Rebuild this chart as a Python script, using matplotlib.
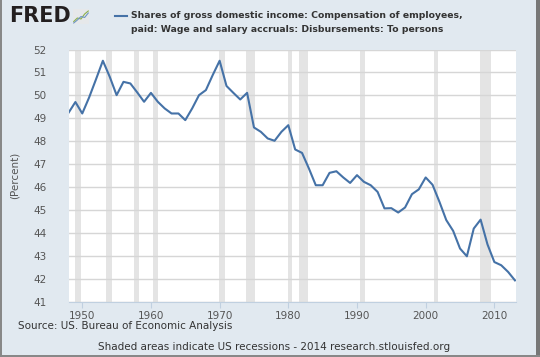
import numpy as np
import matplotlib
matplotlib.use('Agg')
import matplotlib.pyplot as plt
from matplotlib.patches import Rectangle
from matplotlib.lines import Line2D

# annual values, 1948-2013
years = np.arange(1948, 2014)
share = [49.24, 49.71, 49.21, 49.91, 50.70, 51.51, 50.81, 50.01, 50.59, 50.52,
         50.13, 49.72, 50.11, 49.72, 49.43, 49.21, 49.21, 48.92, 49.43, 50.01,
         50.23, 50.89, 51.51, 50.41, 50.11, 49.82, 50.11, 48.60, 48.41, 48.12,
         48.02, 48.41, 48.70, 47.64, 47.49, 46.81, 46.08, 46.08, 46.62, 46.69,
         46.42, 46.18, 46.52, 46.23, 46.08, 45.79, 45.07, 45.08, 44.89, 45.11,
         45.69, 45.90, 46.42, 46.10, 45.36, 44.56, 44.09, 43.32, 42.98, 44.19,
         44.58, 43.50, 42.73, 42.59, 42.30, 41.93]
# NBER recessions (start, end) as decimal years
recessions = [(1948.9, 1949.8), (1953.5, 1954.4), (1957.6, 1958.3),
              (1960.3, 1961.1), (1969.95, 1970.85), (1973.85, 1975.2),
              (1980.0, 1980.5), (1981.5, 1982.85), (1990.5, 1991.2),
              (2001.2, 2001.85), (2007.9, 2009.45)]
yticks = np.arange(41, 53)
xticks = [1950, 1960, 1970, 1980, 1990, 2000, 2010]

bg = '#e1e9f0'
blue = '#4572a7'
grey = '#555555'

fig = plt.figure(figsize=(5.4, 3.57), dpi=100, facecolor=bg)
ax = fig.add_axes([0.1269, 0.1549, 0.828, 0.7064])
ax.set_facecolor('white')

for s, e in recessions:
    ax.axvspan(s, e, color='#e4e4e4', lw=0, zorder=1)
for t in yticks:
    ax.axhline(t, color='#d6d6d6', lw=1, zorder=2)
ax.plot(years, share, color=blue, lw=1.5, zorder=3)

ax.set_xlim(1948, 2013.1)
ax.set_ylim(41, 52)
ax.set_yticks(yticks)
ax.set_xticks(xticks)
ax.tick_params(axis='y', length=0, labelsize=7.5, labelcolor=grey, pad=16)
ax.tick_params(axis='x', length=4, color='#c0d0e0', labelsize=7.5, labelcolor=grey, pad=3)
for sp in ['top', 'right', 'left']:
    ax.spines[sp].set_visible(False)
ax.spines['bottom'].set_color('#c0d0e0')
ax.set_ylabel('(Percent)', fontsize=7.5, color=grey, labelpad=10)

# header
fig.text(9/540, 1-16/357, 'FRED', fontsize=15, fontweight='heavy', color='#231f20', va='center')
icon = fig.add_axes([73/540, 1-24/357, 16/540, 15/357])
icon.plot([0, 1, 2, 3, 4], [0.5, 1.2, 1.0, 2.0, 2.6], color='#8cb04a', lw=0.8)
icon.plot([0, 1, 2, 3, 4], [0.2, 0.8, 1.5, 1.3, 2.2], color='#6f96c4', lw=0.8)
icon.set_xlim(-0.2, 4.2)
icon.set_ylim(0, 3)
icon.set_xticks([])
icon.set_yticks([])
icon.set_facecolor('#e6e8ea')
for sp in icon.spines.values():
    sp.set_visible(False)
fig.add_artist(Line2D([115/540, 127/540], [1-16/357, 1-16/357], color=blue, lw=1.5))
fig.text(131/540, 1-16/357, 'Shares of gross domestic income: Compensation of employees,',
         fontsize=6.7, fontweight='bold', color='#333333', va='center')
fig.text(131/540, 1-29/357, 'paid: Wage and salary accruals: Disbursements: To persons',
         fontsize=6.7, fontweight='bold', color='#333333', va='center')

# footer
fig.text(18/540, 1-326/357, 'Source: US. Bureau of Economic Analysis', fontsize=7.5, color='#333333', va='center')
fig.text(274/540, 1-347/357, 'Shaded areas indicate US recessions - 2014 research.stlouisfed.org',
         fontsize=7.5, color='#333333', va='center', ha='center')

# frame
fig.add_artist(Rectangle((0, 0), 2/540, 1, transform=fig.transFigure, color='#888888', lw=0))
fig.add_artist(Rectangle((536/540, 0), 4/540, 1, transform=fig.transFigure, color='#777777', lw=0))
fig.add_artist(Rectangle((0, 0), 1, 2/357, transform=fig.transFigure, color='#888888', lw=0))

fig.savefig('out.png', dpi=100, facecolor=bg)
